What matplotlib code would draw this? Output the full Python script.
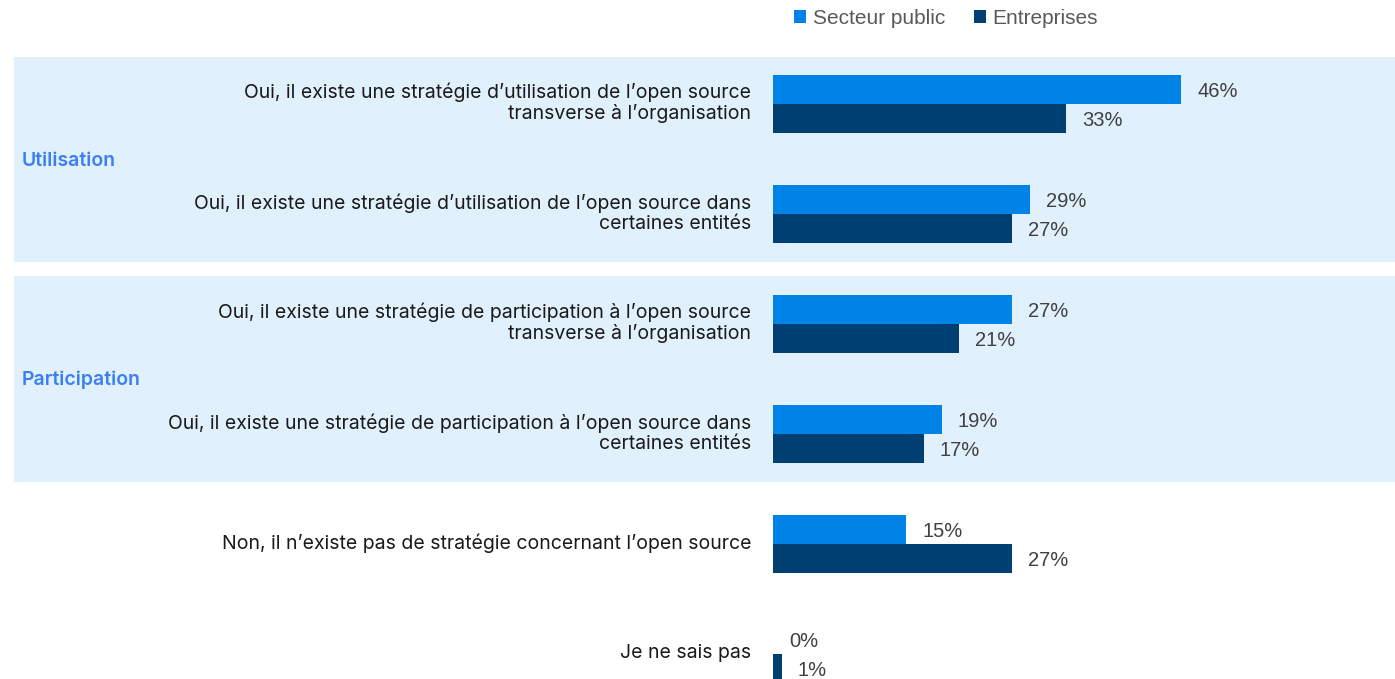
import matplotlib.pyplot as plt
from matplotlib.patches import Rectangle

# Survey answers, top to bottom
categories = [
    "Oui, il existe une stratégie d\u2019utilisation de l\u2019open source\ntransverse à l\u2019organisation",
    "Oui, il existe une stratégie d\u2019utilisation de l\u2019open source dans\ncertaines entités",
    "Oui, il existe une stratégie de participation à l\u2019open source\ntransverse à l\u2019organisation",
    "Oui, il existe une stratégie de participation à l\u2019open source dans\ncertaines entités",
    "Non, il n\u2019existe pas de stratégie concernant l\u2019open source",
    "Je ne sais pas",
]
secteur_public = [46, 29, 27, 19, 15, 0]
entreprises = [33, 27, 21, 17, 27, 1]
series_names = ["Secteur public", "Entreprises"]
group_names = ["Utilisation", "Participation"]

C_PUBLIC = "#0083E6"
C_ENTR = "#003F72"
C_BAND = "#E1F0FD"
C_GROUP = "#3B7FF2"

W, H = 1395, 679
fig = plt.figure(figsize=(W / 100, H / 100), dpi=100)

# background layer in pixel coordinates for the shaded groups
bg = fig.add_axes([0, 0, 1, 1])
bg.set_xlim(0, W)
bg.set_ylim(H, 0)
bg.axis("off")
for (y0, y1), name in zip([(57, 262), (276, 482)], group_names):
    bg.add_patch(Rectangle((14, y0), W - 14, y1 - y0, color=C_BAND, lw=0))
    bg.text(22, (y0 + y1) / 2 + 1, name, color=C_GROUP, fontsize=14, fontweight="semibold",
            family="Inter", va="center", ha="left")

# bar area: starts at x=773px, 8.87 px per percentage point, rows 110px apart
x0_px, px_per_pct = 773, 8.87
row0_px, row_px = 104, 110
ax = fig.add_axes([x0_px / W, 0, 1 - x0_px / W, 1])
ax.set_xlim(0, (W - x0_px) / px_per_pct)
ax.set_ylim((H - row0_px) / row_px, -row0_px / row_px)
ax.axis("off")
ax.patch.set_alpha(0)

bh = 29 / row_px
ypos = list(range(len(categories)))
b1 = ax.barh([y - bh / 2 for y in ypos], secteur_public, height=bh, color=C_PUBLIC,
             label=series_names[0])
b2 = ax.barh([y + bh / 2 for y in ypos], entreprises, height=bh, color=C_ENTR,
             label=series_names[1])

off = 16 / px_per_pct
for y, v in zip(ypos, secteur_public):
    ax.text(v + off, y - bh / 2 + 0.02, f"{v}%", va="center", ha="left", fontsize=14.5,
            color="#404040", family="Liberation Sans")
for y, v in zip(ypos, entreprises):
    ax.text(v + off, y + bh / 2 + 0.02, f"{v}%", va="center", ha="left", fontsize=14.5,
            color="#404040", family="Liberation Sans")

for y, lab in zip(ypos, categories):
    ax.text(-22 / px_per_pct, y - 0.01, lab, va="center", ha="right", fontsize=14,
            color="#1A1A1A", family="Inter", linespacing=1.15, clip_on=False)

fig.legend(handles=[b1, b2], labels=series_names, loc="upper center",
           bbox_to_anchor=(946 / W, 1.015), ncol=2, frameon=False,
           handlelength=0.6, handleheight=0.6, handletextpad=0.3, columnspacing=1.4,
           prop={"family": "Liberation Sans", "size": 15}, labelcolor="#595959")

fig.savefig("out.png", dpi=100)
